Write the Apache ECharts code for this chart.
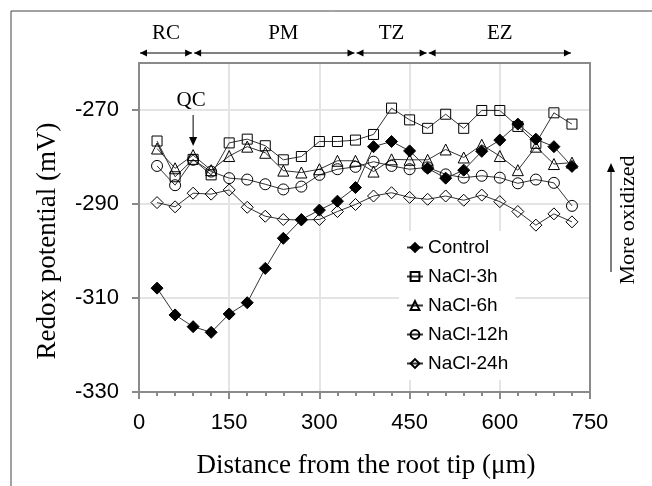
<!DOCTYPE html>
<html><head><meta charset="utf-8">
<script src="https://cdn.jsdelivr.net/npm/echarts@6/dist/echarts.min.js"></script>
<style>html,body{margin:0;padding:0;background:#fff}#c{width:652px;height:486px}</style>
</head><body><div id="c"></div>
<script>
const distance = [30,60,90,120,150,180,210,240,270,300,330,360,390,420,450,480,510,540,570,600,630,660,690,720];
const control = [-307.9,-313.6,-316.1,-317.3,-313.4,-311.0,-303.7,-297.3,-293.3,-291.3,-289.4,-286.5,-277.8,-276.7,-278.7,-282.4,-284.5,-282.8,-278.8,-276.4,-273.0,-276.2,-277.8,-282.0];
const nacl3h = [-276.6,-284.2,-280.5,-283.8,-277.0,-276.2,-277.6,-280.6,-279.9,-276.7,-276.7,-276.4,-275.2,-269.6,-272.1,-273.9,-270.9,-273.9,-270.1,-270.1,-273.5,-277.1,-270.6,-273.0];
const nacl6h = [-278.2,-282.4,-279.6,-282.8,-279.8,-277.8,-279.1,-282.9,-283.3,-282.6,-280.8,-280.8,-283.1,-280.5,-280.6,-280.6,-278.4,-280.1,-277.4,-279.8,-282.8,-277.8,-281.5,-281.2];
const nacl12h = [-281.9,-286.0,-280.6,-283.1,-284.5,-284.8,-285.8,-286.9,-286.3,-283.8,-282.6,-282.1,-281.0,-281.9,-282.6,-282.2,-283.7,-284.4,-284.0,-284.4,-285.6,-284.8,-285.5,-290.4];
const nacl24h = [-289.7,-290.6,-287.7,-287.9,-287.0,-290.7,-292.6,-293.3,-293.4,-293.3,-291.6,-290.1,-288.3,-287.6,-288.6,-289.0,-288.3,-289.2,-288.1,-289.5,-291.6,-294.5,-292.1,-293.8];
const seriesNames = ['Control','NaCl-3h','NaCl-6h','NaCl-12h','NaCl-24h'];
const xTicks = [0,150,300,450,600,750];
const yTicks = [-330,-310,-290,-270];
const zoneEdges = [0,90,360,480,720];
const zoneNames = ['RC','PM','TZ','EZ'];
const zoneLabelX = [45,240,420,600];
const qcX = 90;

const pairs = arr => distance.map((d,i)=>[d,arr[i]]);
const chart = echarts.init(document.getElementById('c'), null, {renderer:'canvas'});
const sans = 'Liberation Sans, Arial, sans-serif';
const serif = 'Liberation Serif, Times New Roman, serif';

function mk(name, arr, symbol, size, filled){
  return {
    name, type:'line', data:pairs(arr), symbol, symbolSize:size, showSymbol:true,
    z: filled ? 5 : 3,
    lineStyle:{color:'#333', width:1},
    itemStyle:{color: filled ? '#000' : 'rgba(0,0,0,0)', borderColor:'#000', borderWidth:1},
    emphasis:{disabled:true}
  };
}

chart.setOption({
  animation:false,
  backgroundColor:'#fff',
  grid:{left:139, top:63, right:62, bottom:94, containLabel:false},
  xAxis:{type:'value', min:xTicks[0], max:xTicks[xTicks.length-1], interval:150,
    axisLine:{lineStyle:{color:'#8a8a8a', width:2}},
    axisTick:{show:true, length:7, lineStyle:{color:'#8a8a8a', width:2}},
    minorTick:{show:true, splitNumber:5, length:4, lineStyle:{color:'#8a8a8a', width:2}},
    axisLabel:{color:'#000', fontFamily:sans, fontSize:22, margin:20},
    splitLine:{show:true, lineStyle:{color:'#e4e4e4', width:2}}
  },
  yAxis:{type:'value', min:-330, max:-260, interval:20,
    axisLine:{show:true, lineStyle:{color:'#8a8a8a', width:2}},
    axisTick:{show:true, length:7, customValues:yTicks, lineStyle:{color:'#8a8a8a', width:2}},
    axisLabel:{color:'#000', fontFamily:sans, fontSize:22, margin:20, customValues:yTicks},
    splitLine:{show:true, lineStyle:{color:'#e4e4e4', width:2}}
  },
  legend:{
    data:seriesNames, orient:'vertical', left:399, top:231, padding:7,
    backgroundColor:'#fff', itemWidth:16, itemHeight:11, itemGap:10,
    selectedMode:false,
    textStyle:{color:'#000', fontFamily:sans, fontSize:19}
  },
  series:[
    mk('NaCl-3h', nacl3h, 'rect', 10, false),
    mk('NaCl-6h', nacl6h, 'triangle', 11, false),
    mk('NaCl-12h', nacl12h, 'circle', 11, false),
    mk('NaCl-24h', nacl24h, 'diamond', 12, false),
    mk('Control', control, 'diamond', 12, true)
  ]
});

const P = (x,y)=>chart.convertToPixel({gridIndex:0},[x,y]);
const g = [];
// outer frame
g.push({type:'line', shape:{x1:11,y1:11,x2:11,y2:486}, style:{stroke:'#444', lineWidth:1}, silent:true});
g.push({type:'line', shape:{x1:11,y1:11,x2:652,y2:11}, style:{stroke:'#444', lineWidth:1}, silent:true});
// plot border
const tl = P(0,-260), br = P(750,-330);
g.push({type:'rect', shape:{x:tl[0], y:tl[1], width:br[0]-tl[0], height:br[1]-tl[1]},
  style:{fill:null, stroke:'#8a8a8a', lineWidth:2}, z:1, silent:true});
function arrowHead(x,y,dir){ // dir: +1 pointing right, -1 left, 'up', 'down'
  let pts;
  if(dir===1) pts=[[x,y],[x-7,y-3.5],[x-7,y+3.5]];
  else if(dir===-1) pts=[[x,y],[x+7,y-3.5],[x+7,y+3.5]];
  else if(dir==='up') pts=[[x,y],[x-4,y+9],[x+4,y+9]];
  else pts=[[x,y],[x-4,y-9],[x+4,y-9]];
  return {type:'polygon', shape:{points:pts}, style:{fill:'#000'}, silent:true};
}
const arrowY = 53;
for(let i=0;i<zoneNames.length;i++){
  const a = P(zoneEdges[i],-300)[0]+1, b = P(zoneEdges[i+1],-300)[0]-1;
  g.push({type:'line', shape:{x1:a,y1:arrowY,x2:b,y2:arrowY}, style:{stroke:'#000', lineWidth:1}, silent:true});
  g.push(arrowHead(a,arrowY,-1));
  g.push(arrowHead(b,arrowY,1));
  const lx = P(zoneLabelX[i],-300)[0];
  g.push({type:'text', x:lx, y:33, style:{text:zoneNames[i], fill:'#000', font:'21px '+serif, align:'center', verticalAlign:'middle'}, silent:true});
}
// QC label and arrow
const qx = P(qcX,-300)[0];
g.push({type:'text', x:qx-2, y:100, style:{text:'QC', fill:'#000', font:'21px '+serif, align:'center', verticalAlign:'middle'}, silent:true});
g.push({type:'line', shape:{x1:qx,y1:115,x2:qx,y2:140}, style:{stroke:'#000', lineWidth:1}, silent:true});
g.push(arrowHead(qx,146,'down'));
// More oxidized
g.push({type:'line', shape:{x1:611,y1:170,x2:611,y2:272}, style:{stroke:'#000', lineWidth:1}, silent:true});
g.push(arrowHead(611,163,'up'));
g.push({type:'text', x:628, y:220, rotation:Math.PI/2, style:{text:'More oxidized', fill:'#000', font:'22px '+serif, align:'center', verticalAlign:'middle'}, silent:true});
// axis titles
g.push({type:'text', x:48, y:241, rotation:Math.PI/2, style:{text:'Redox potential (mV)', fill:'#000', font:'27px '+serif, align:'center', verticalAlign:'middle'}, silent:true});
g.push({type:'text', x:366, y:466, style:{text:'Distance from the root tip (\u03bcm)', fill:'#000', font:'27px '+serif, align:'center', verticalAlign:'middle'}, silent:true});
chart.setOption({graphic:{elements:g}});
</script>
</body></html>
